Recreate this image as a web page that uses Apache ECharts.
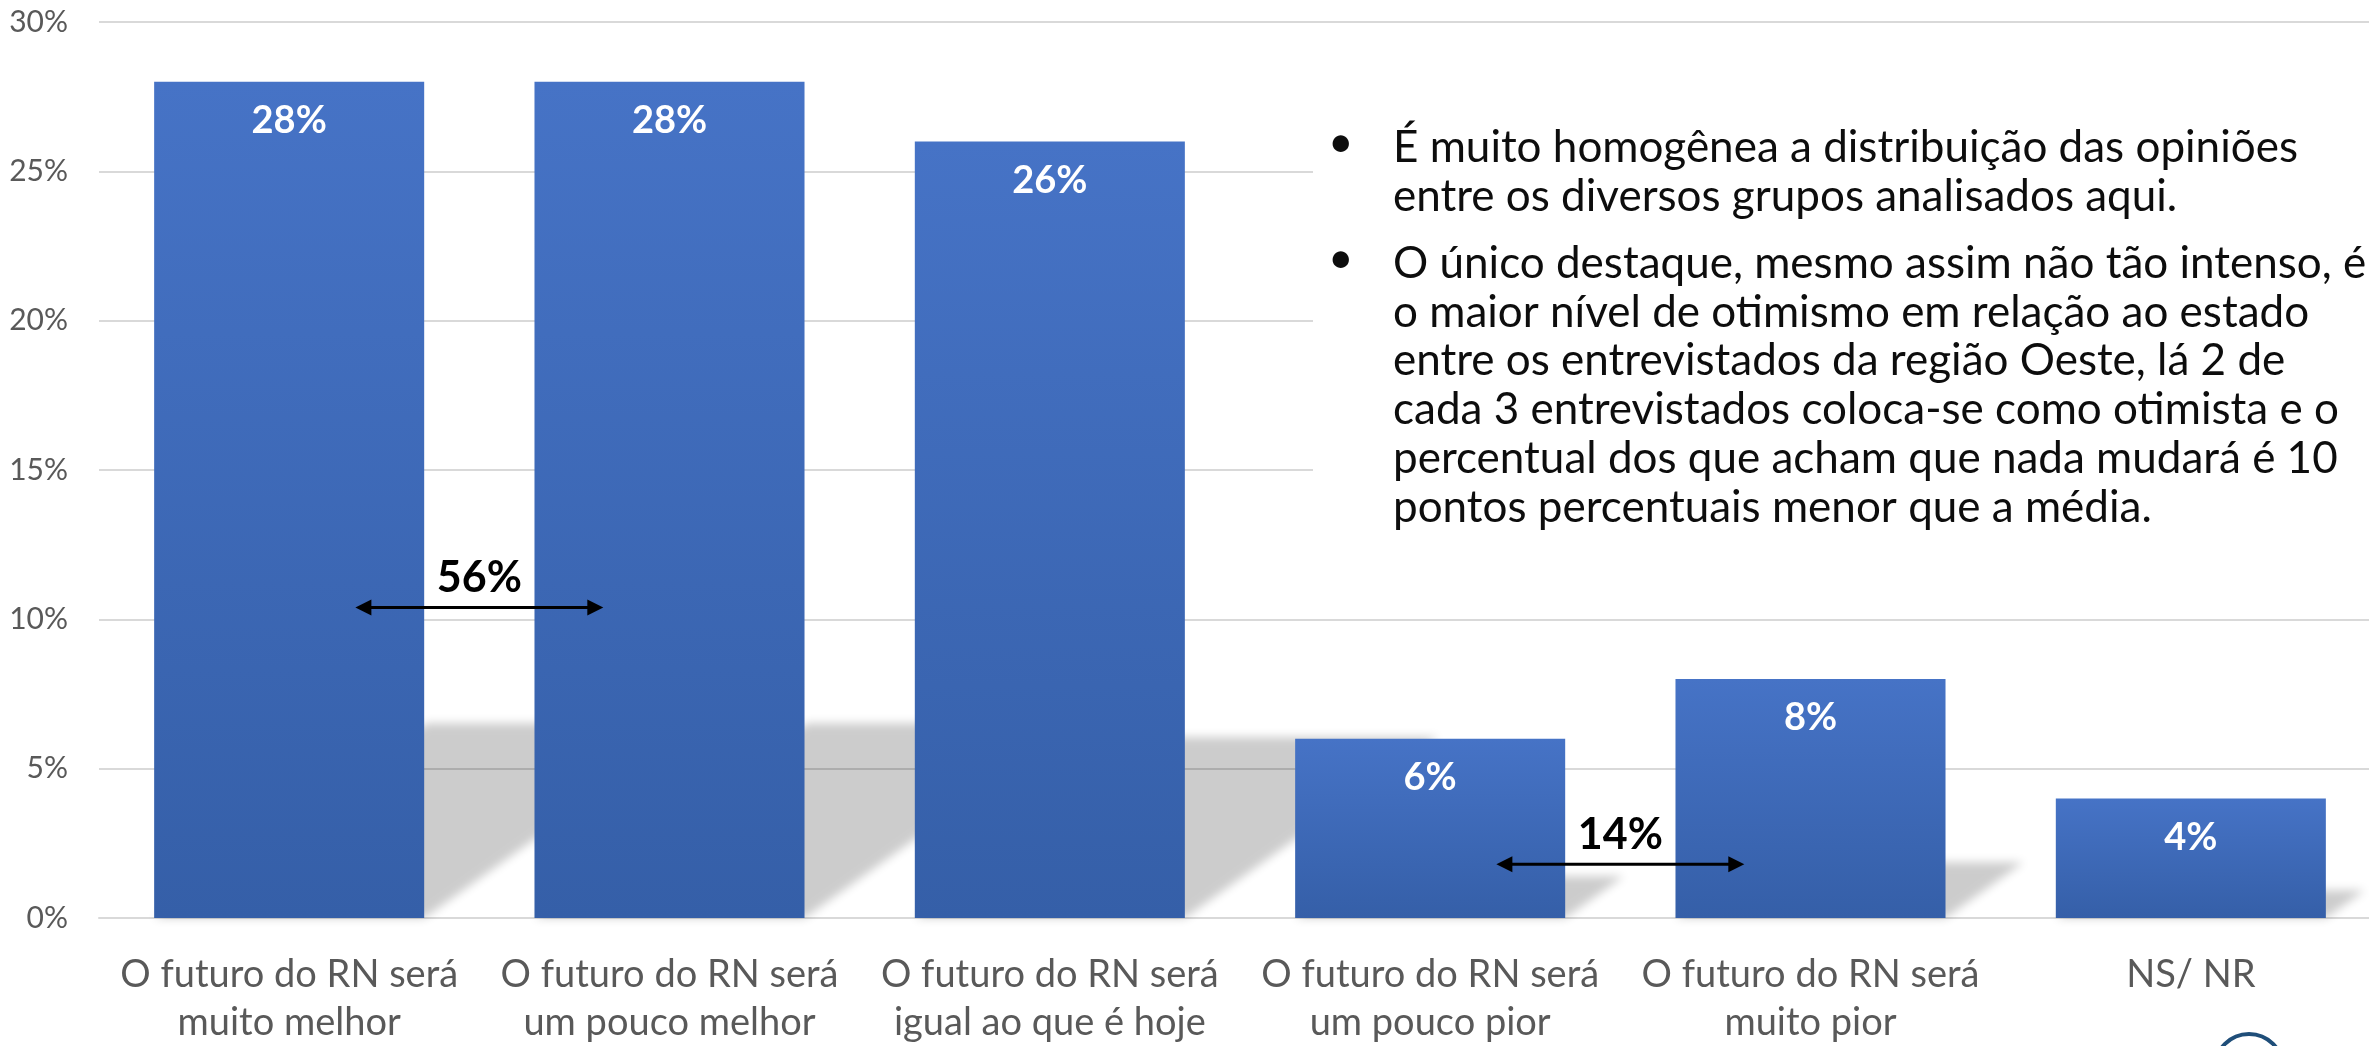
<!DOCTYPE html>
<html>
<head>
<meta charset="utf-8">
<title>Futuro do RN</title>
<script src="https://cdn.jsdelivr.net/npm/echarts@6/dist/echarts.min.js"></script>
<style>
html,body{margin:0;padding:0;background:#fff;overflow:hidden;}
#charts{width:2369px;height:1046px;}
</style>
</head>
<body>
<div id="charts"></div>
<script>
// dados do grafico
var categorias = [
  'O futuro do RN será\nmuito melhor',
  'O futuro do RN será\num pouco melhor',
  'O futuro do RN será\nigual ao que é hoje',
  'O futuro do RN será\num pouco pior',
  'O futuro do RN será\nmuito pior',
  'NS/ NR'
];
var valores = [28, 28, 26, 6, 8, 4];

// setas de soma (entre duas barras)
var setaInicio = [0, 3];
var setaFim = [1, 4];
var setaAltura = [10.4, 1.8];
var setaRotulo = ['56%', '14%'];

// texto do lado direito
var nota1 = [
  'É muito homogênea a distribuição das opiniões',
  'entre os diversos grupos analisados aqui.'
];
var nota2 = [
  'O único destaque, mesmo assim não tão intenso, é',
  'o maior nível de otimismo em relação ao estado',
  'entre os entrevistados da região Oeste, lá 2 de',
  'cada 3 entrevistados coloca-se como otimista e o',
  'percentual dos que acham que nada mudará é 10',
  'pontos percentuais menor que a média.'
];

var fonte = 'Lato';
var myChart = echarts.init(document.getElementById('charts'), null, {renderer: 'canvas'});

// sombra em perspectiva atras de cada barra
// (o poligono fica fora da tela e so a sombra desfocada aparece)
var FORA = 4000;
function desenhaSombra(params, api) {
  var base = api.coord([api.value(0), 0]);
  var topo = api.coord([api.value(0), api.value(1)]);
  var w = api.size([1, 0])[0] * 0.71;
  var h = (base[1] - topo[1]) * 0.233;
  var s = h * 1.4;
  var x = base[0] - FORA;
  return {
    type: 'polygon',
    shape: {points: [
      [x - w / 2, base[1]],
      [x + w / 2, base[1]],
      [x + w / 2 + s, base[1] - h],
      [x - w / 2 + s, base[1] - h]
    ]},
    style: {fill: '#000', shadowBlur: 10, shadowColor: 'rgba(0,0,0,0.2)', shadowOffsetX: FORA, shadowOffsetY: 0}
  };
}

// seta dupla com o rotulo da soma
function desenhaSeta(params, api) {
  var p1 = api.coord([api.value(0), api.value(2)]);
  var p2 = api.coord([api.value(1), api.value(2)]);
  var band = api.size([1, 0])[0];
  var meio = (p1[0] + p2[0]) / 2;
  var meia = band * 0.326;
  var y = p1[1];
  var x1 = meio - meia, x2 = meio + meia;
  var cab = 16, abre = 8;
  return {
    type: 'group',
    children: [
      {type: 'line', shape: {x1: x1 + cab - 2, y1: y, x2: x2 - cab + 2, y2: y}, style: {stroke: '#000', lineWidth: 3}},
      {type: 'polygon', shape: {points: [[x1, y], [x1 + cab, y - abre], [x1 + cab, y + abre]]}, style: {fill: '#000'}},
      {type: 'polygon', shape: {points: [[x2, y], [x2 - cab, y - abre], [x2 - cab, y + abre]]}, style: {fill: '#000'}},
      {type: 'text', style: {
        text: setaRotulo[params.dataIndex], x: meio, y: y - 29,
        align: 'center', verticalAlign: 'middle',
        fill: '#000', fontSize: 43, fontWeight: 'bold', fontFamily: fonte
      }}
    ]
  };
}

// caixa de texto com marcadores (fundo branco cobre as linhas de grade)
var graficos = [
  {type: 'rect', z: 10, shape: {x: 1313, y: 80, width: 1100, height: 480}, style: {fill: '#fff'}}
];
function addNota(linhas, y0) {
  graficos.push({type: 'text', z: 11, left: 1328, top: y0 - 27, style: {text: '•', fontSize: 44, fontFamily: fonte, fill: '#0d0d0d'}});
  graficos.push({
    type: 'text', z: 11, left: 1393, top: y0 - 24.5,
    style: {text: linhas.join('\n'), fontSize: 44, lineHeight: 48.7, fontFamily: fonte, fill: '#0d0d0d'}
  });
}
addNota(nota1, 148);
addNota(nota2, 264);
// pedaco do logo no canto
graficos.push({type: 'circle', shape: {cx: 2249, cy: 1068, r: 34}, style: {fill: 'none', stroke: '#1f4e79', lineWidth: 4}});

var option = {
  backgroundColor: '#fff',
  animation: false,
  grid: {left: 99, width: 2282, top: 22, bottom: 128, containLabel: false, outerBoundsMode: 'none'},
  xAxis: {
    type: 'category',
    data: categorias,
    axisTick: {show: false},
    axisLine: {lineStyle: {color: '#d9d9d9', width: 2}},
    axisLabel: {interval: 0, color: '#595959', fontSize: 38, lineHeight: 48, fontFamily: fonte, margin: 33}
  },
  yAxis: {
    type: 'value',
    min: 0, max: 30, interval: 5,
    axisLine: {show: false},
    axisTick: {show: false},
    axisLabel: {formatter: '{value}%', color: '#595959', fontSize: 30, fontFamily: fonte, margin: 31},
    splitLine: {lineStyle: {color: '#d9d9d9', width: 2}}
  },
  graphic: graficos,
  series: [
    {
      type: 'custom',
      renderItem: desenhaSombra,
      z: 1,
      silent: true,
      data: valores.map(function (v, i) { return [i, v]; })
    },
    {
      type: 'bar',
      data: valores,
      z: 3,
      barCategoryGap: '29%',
      itemStyle: {
        color: new echarts.graphic.LinearGradient(0, 0, 0, 1, [
          {offset: 0, color: '#4673c6'},
          {offset: 1, color: '#355fa8'}
        ])
      },
      label: {
        show: true, position: 'insideTop', distance: 20,
        formatter: '{c}%', color: '#fff', fontSize: 38, fontWeight: 'bold', fontFamily: fonte
      }
    },
    {
      type: 'custom',
      renderItem: desenhaSeta,
      z: 5,
      encode: {x: 0, y: 2},
      data: setaInicio.map(function (d, i) { return [d, setaFim[i], setaAltura[i]]; })
    }
  ]
};
myChart.setOption(option);
</script>
</body>
</html>
